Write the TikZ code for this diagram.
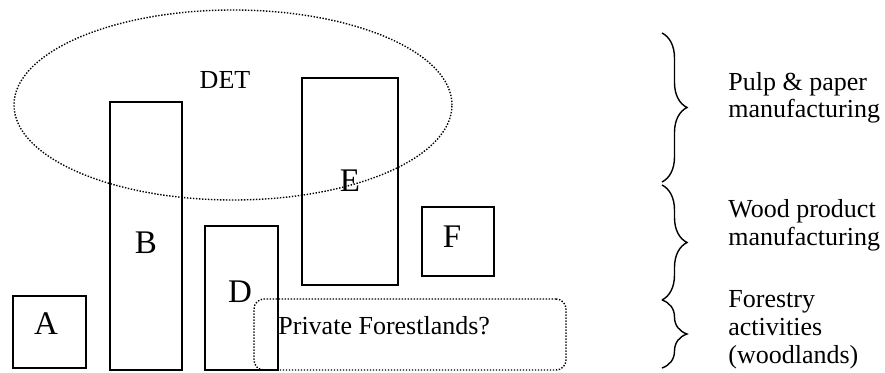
\documentclass[tikz,border=0pt]{standalone}
\usepackage{fontspec}
\setmainfont{Liberation Serif}
\usetikzlibrary{decorations.pathreplacing,shapes.geometric}
\begin{document}
\begin{tikzpicture}[x=0.5pt,y=-0.5pt,
  box/.style={draw,line width=0.75pt,inner sep=0pt,outer sep=0pt},
  dotline/.style={draw,line width=0.7pt,dash pattern=on 0.7pt off 0.8pt},
  letter/.style={inner sep=0pt,font=\fontsize{16.5}{18}\selectfont},
  plain/.style={inner sep=0pt,font=\fontsize{13}{14}\selectfont},
  side/.style={inner sep=0pt,align=left,anchor=base west,font=\fontsize{13}{14}\selectfont},
  curly/.style={decorate,decoration={brace,amplitude=12.5pt},line width=0.7pt}]
\useasboundingbox (0,0) rectangle (885,373);

% sector boxes
\node[box,minimum width=36.5pt,minimum height=36pt] (boxA) at (49.5,332) {};
\node[box,minimum width=36pt,minimum height=134pt] (boxB) at (146,236) {};
\node[box,minimum width=36.5pt,minimum height=72pt] (boxD) at (241.5,298) {};
\node[box,minimum width=48pt,minimum height=103.5pt] (boxE) at (350,181.5) {};
\node[box,minimum width=36pt,minimum height=34.5pt] (boxF) at (458,241.5) {};

% groupings
\node[dotline,ellipse,inner sep=0pt,minimum width=219pt,minimum height=95pt] (det) at (233,105) {};
\node[dotline,rectangle,rounded corners=5pt,inner sep=0pt,minimum width=156pt,minimum height=35.5pt] (forest) at (410,334.5) {};

% labels
\node[letter] (lA) at (46,324) {A};
\node[letter] (lB) at (146,243) {B};
\node[letter] (lD) at (240,292) {D};
\node[letter] (lE) at (350,181) {E};
\node[letter] (lF) at (452,237) {F};
\node[plain] (lDET) at (225,80) {DET};
\node[plain,anchor=base west] (lPF) at (278,335) {Private Forestlands?};

% industry braces
\draw[curly] (662,33) -- (662,182);
\draw[curly] (662,185) -- (662,300);
\draw[curly] (662,300) -- (662,368);

% industry names (anchored at the baseline of the last line)
\node[side] (pulp) at (728,118) {Pulp \& paper\\[-0.5pt]manufacturing};
\node[side] (wood) at (728,246) {Wood product\\[0pt]manufacturing};
\node[side] (fore) at (728,364) {Forestry\\[0pt]activities\\[0pt](woodlands)};
\end{tikzpicture}
\end{document}
